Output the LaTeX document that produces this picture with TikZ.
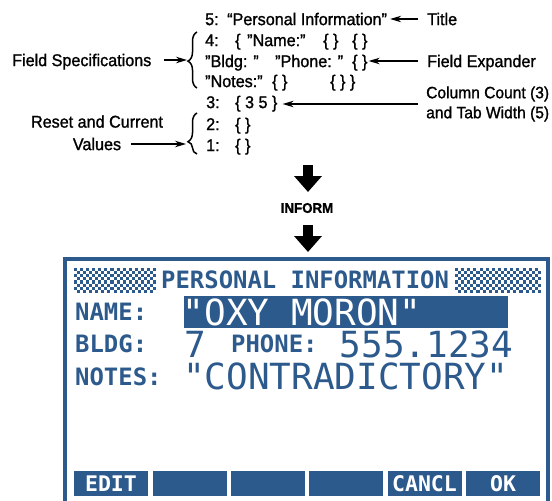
\documentclass[tikz,border=0pt]{standalone}
\usepackage{fontspec}
\setmainfont{Liberation Sans}[FakeStretch=0.95,FakeBold=1.2]
\newfontfamily\lcdfont{DejaVu Sans Mono}
\usetikzlibrary{arrows.meta,decorations.pathreplacing}
\definecolor{lcd}{RGB}{45,90,140}
\tikzset{
  txt/.style={inner sep=0pt, anchor=west, font=\fontsize{17}{20}\selectfont, text height=12.2pt, text depth=0pt},
  lbl2/.style={inner sep=0pt, anchor=west, align=left, font=\fontsize{16.4}{20}\selectfont},
  arr/.style={line width=1.2pt, -{Stealth[length=11pt,width=6.5pt]}},
  brc/.style={decorate, line width=1.5pt},
  bigarr/.style={line width=10pt, -{Triangle[length=16pt,width=27pt]}},
  lcdsm/.style={inner sep=0pt, anchor=base west, text=lcd, text height=17.4pt, text depth=0pt,
    font=\lcdfont\bfseries\fontsize{23.9}{24}\selectfont},
  lcdlg/.style={inner sep=0pt, anchor=base west, text=lcd, text height=26pt, text depth=0pt,
    font=\lcdfont\fontsize{36}{36}\selectfont},
  key/.style={fill=lcd, text=white, minimum width=74pt, minimum height=25pt, inner sep=0pt,
    text height=15.7pt, text depth=0pt, font=\lcdfont\bfseries\fontsize{21.5}{22}\selectfont}
}
\begin{document}
\begin{tikzpicture}[x=1pt,y=-1pt]
\useasboundingbox (0,0) rectangle (552,501);
% ---- code stack ----
\node[txt] (r5a) at (205,19) {5:};
\node[txt] (r5b) at (227,19) {“Personal Information”};
\node[txt] (r4a) at (205,40) {4:};
\node[txt] (r4b) at (235,40) {\{};
\node[txt] (r4c) at (247,40) {"Name:"};
\node[txt] (r4d) at (323,40) {\{ \}};
\node[txt] (r4e) at (352,40) {\{ \}};
\node[txt] (rBa) at (205,61) {"Bldg: "};
\node[txt] (rBb) at (275,61) {"Phone: "};
\node[txt] (rBc) at (352,61) {\{ \}};
\node[txt] (rNa) at (205,81) {"Notes:"};
\node[txt] (rNb) at (272,81) {\{ \}};
\node[txt] (rNc) at (330,81) {\{ \} \}};
\node[txt] (r3a) at (206,102) {3:};
\node[txt] (r3b) at (235,102) {\{ 3 5 \}};
\node[txt] (r2a) at (206,124) {2:};
\node[txt] (r2b) at (235,124) {\{ \}};
\node[txt] (r1a) at (206,145) {1:};
\node[txt] (r1b) at (235,145) {\{ \}};
% ---- labels ----
\node[txt] (title) at (427,19) {Title};
\node[txt] (fe) at (427,61) {Field Expander};
\node[lbl2] (cc) at (426,104) {Column Count (3)\\and Tab Width (5)};
\node[txt] (fs) at (12,60) {Field Specifications};
\node[txt, anchor=center] (rc1) at (97,121.5) {Reset and Current};
\node[txt, anchor=center] (rc2) at (97,144) {Values};
% ---- braces ----
\draw[brc, decoration={brace, amplitude=9pt, aspect=0.48}] (197,88) -- (197,32);
\draw[brc, decoration={brace, amplitude=9pt, aspect=0.3}] (197,154) -- (197,113);
\coordinate (b1) at (187,60);
\coordinate (b2) at (186,144);
% ---- arrows ----
\draw[arr, shorten <=9pt, shorten >=3pt] (title.west) -- (r5b.east |- title.west);
\draw[arr, shorten <=9pt, shorten >=1pt] (fe.west) -- (rBc.east |- fe.west);
\draw[arr, shorten <=8pt, shorten >=5pt] (cc.west) -- (r3b.east |- cc.west);
\draw[arr, shorten <=12pt] (fs.east) -- (b1);
\draw[arr, shorten <=10pt] (rc2.east) -- (b2);
% ---- INFORM ----
\node[inner sep=0pt, font=\bfseries\fontsize{14}{16}\selectfont] (inform) at (307,208) {INFORM};
\coordinate (a1s) at (308,165);
\coordinate (a1e) at (308,192);
\coordinate (a2s) at (308,225);
\coordinate (a2e) at (308,252);
\draw[bigarr] (a1s) -- (a1e);
\draw[bigarr] (a2s) -- (a2e);
% ---- screen ----
\draw[lcd, line width=4pt] (65,510) -- (65,259) -- (548,259) -- (548,510);
\foreach \i in {0,...,26}{\foreach \j in {0,...,7}{%
  \ifodd\numexpr\i+\j\relax\else\fill[lcd] (74+\i*3.04,268+\j*3.1) rectangle ++(3.04,3.1);\fi}}
\foreach \i in {0,...,27}{\foreach \j in {0,...,7}{%
  \ifodd\numexpr\i+\j\relax\else\fill[lcd] (455+\i*3.07,268+\j*3.1) rectangle ++(3.07,3.1);\fi}}
\node[lcdsm] (ptitle) at (161,288) {PERSONAL INFORMATION};
\fill[lcd] (184,296) rectangle (508,328);
\node[lcdsm] (name) at (75,320) {NAME:};
\node[lcdsm] (bldg) at (75,352) {BLDG:};
\node[lcdsm] (phone) at (231,352) {PHONE:};
\node[lcdsm] (notes) at (75,385) {NOTES:};
\node[lcdlg, text=white] (oxy) at (182.7,325) {"OXY MORON"};
\node[lcdlg] (seven) at (184.5,357) {7};
\node[lcdlg] (num) at (339.5,357) {555.1234};
\node[lcdlg] (contra) at (183,389) {"CONTRADICTORY"};
\node[key] (k1) at (111,483.5) {EDIT};
\node[key] (k2) at (189.5,483.5) {};
\node[key] (k3) at (267.5,483.5) {};
\node[key] (k4) at (346,483.5) {};
\node[key] (k5) at (424.5,483.5) {CANCL};
\node[key] (k6) at (503,483.5) {OK};
\end{tikzpicture}
\end{document}
